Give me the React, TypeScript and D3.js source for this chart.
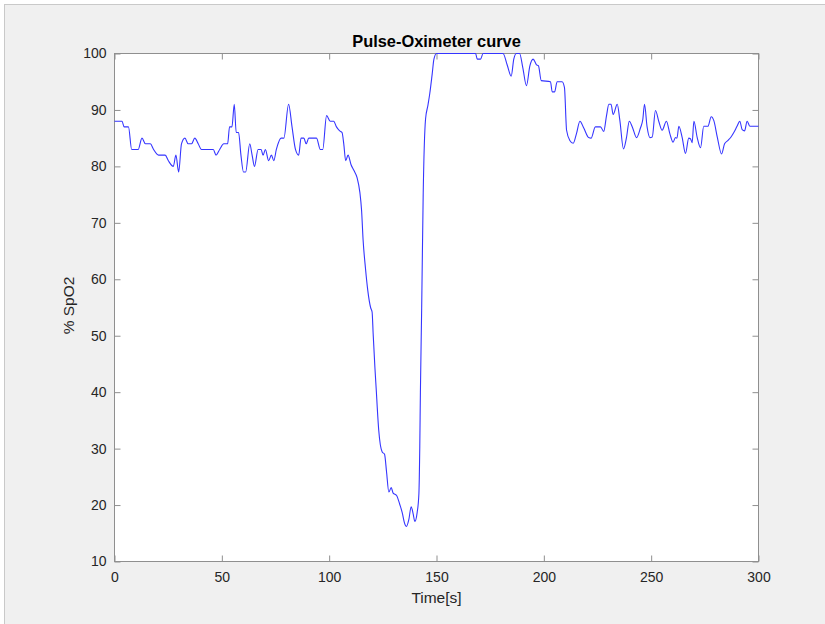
import React, { useEffect, useRef } from "react";
import * as d3 from "d3";

// Pulse-oximeter recording: time in seconds and oxygen saturation in %
const timeSec: number[] = [
  0, 3.5, 4.5, 6.5, 8, 11, 12.8, 14.4, 16.7, 18.2, 20.5, 23.6, 25.1, 27.4, 28.6, 29.9,
  31.2, 32.8, 34.3, 35.9, 37.4, 39, 40.5, 46, 47.3, 49, 50.9, 52.7, 53.6, 54.7, 55.8,
  56.7, 57.8, 58.9, 60.1, 61.1, 63, 64.1, 65.2, 66.9, 68.3, 69.2, 70.3, 71.8, 73.1,
  74.2, 75.4, 77.6, 78.9, 81.1, 82.7, 84.3, 85.8, 86.9, 88.2, 89.3, 90.5, 94.1, 95.9,
  97, 98.8, 100.5, 102.1, 103.4, 104.9, 106, 106.8, 107.7, 108.8, 110.2, 111.5, 113,
  114.3, 115.1, 115.8, 116.9, 118, 119.3, 120, 120.5, 121.3, 122, 122.4, 123.1, 124.7,
  125.8, 126.7, 127.8, 128.9, 129.8, 131.4, 132.9, 134, 135.1, 136, 137.1, 138.2,
  139.1, 139.9, 141, 141.8, 142.2, 142.5, 143.1, 143.8, 144.9, 146, 146.9, 148, 148.8,
  150, 168.2, 169, 170.5, 171.7, 181, 182.9, 184.8, 186, 187.2, 188.7, 190.2, 191.9,
  193.5, 195, 196.6, 197.5, 198.8, 203.1, 203.9, 205, 206.2, 208.5, 209.6, 210.6,
  212.1, 213.7, 215.2, 216.8, 218.6, 220.9, 222, 224, 226.4, 227.9, 229.2, 230.3,
  231.3, 232.3, 234.2, 235.4, 237.1, 238.5, 239.8, 241.3, 243.2, 245, 246.1, 246.9,
  248.1, 249.4, 250.5, 252, 253.6, 255.1, 257.1, 258.7, 260.2, 261.3, 262, 262.9,
  264.4, 266, 267.5, 268.3, 269.1, 269.9, 271.4, 273, 274.5, 276.4, 278, 279.2, 280.8,
  282.8, 284.2, 285.8, 287.2, 288.5, 290, 291.3, 292.4, 293.5, 294.7, 296, 300,
];

const spo2: number[] = [
  88, 88, 87, 87, 83, 83, 85, 84, 84, 83, 82, 82, 81, 80, 82, 79,
  84, 85, 84, 84, 85, 84, 83, 83, 82, 83, 84, 84, 87, 87, 91,
  86, 86, 82, 79, 79, 84, 82, 80, 83, 83, 82, 83, 81, 82,
  81, 83, 85, 85, 91, 87, 83, 82, 85, 85, 84, 85, 85, 83,
  83, 89, 88, 88, 87, 86.3, 86, 84, 81, 82, 80.3, 79.3, 78,
  75.4, 72.2, 67, 62, 58, 55, 54.2, 50.3, 44.4, 40, 37.3, 33.2, 29.4,
  29, 26, 22.3, 23.1, 22.1, 21.7, 20.1, 18.7, 16.8, 16.2, 17.4, 19.7,
  18.5, 17.1, 18.7, 22, 30, 40, 55, 75, 88.4, 90.8, 93, 96.4, 99,
  100, 100, 99, 99, 100, 100, 98, 96, 99, 100, 100, 97.5, 94.3,
  97.8, 99, 98, 97.8, 95.2, 95, 93.2, 93.2, 95, 95, 94, 86.4,
  84.6, 84.1, 85.8, 88, 86.8, 85.1, 85, 87, 87, 86.2, 89, 91,
  91, 89.2, 91, 88.2, 83.1, 85.1, 88, 86.9, 85.1, 86.8, 88.3, 91,
  87, 85.1, 85.2, 89.9, 87.9, 86.4, 88, 85.8, 84.3, 85.1, 85, 87.1,
  85.2, 82.3, 85, 84.9, 84.2, 88, 85.2, 83.3, 87.1, 87.1, 88.8, 88.1, 85.2,
  82.2, 84, 84.6, 85.2, 86, 87.1, 88, 86.5, 86.3, 88, 87.1, 87.1,
];

const xTicks: number[] = [0, 50, 100, 150, 200, 250, 300];
const yTicks: number[] = [10, 20, 30, 40, 50, 60, 70, 80, 90, 100];

const chartTitle = "Pulse-Oximeter curve";
const xTitle = "Time[s]";
const yTitle = "% SpO2";

const W = 825;
const H = 624;
const box = { left: 114.5, right: 758.5, top: 53.5, bottom: 561.5 };
const FONT = "'Liberation Sans', Arial, Helvetica, sans-serif";
const AXIS_GREY = "#8f8f8f";
const TEXT_COL = "#262626";

export default function App() {
  const ref = useRef<SVGSVGElement>(null);

  useEffect(() => {
    const svg = d3.select(ref.current);
    svg.selectAll("*").remove();

    // Figure background
    svg.append("rect").attr("x", 0).attr("y", 0).attr("width", W).attr("height", H).attr("fill", "#ffffff");
    svg
      .append("rect")
      .attr("x", 4.5)
      .attr("y", 4.5)
      .attr("width", W + 10)
      .attr("height", H + 10)
      .attr("fill", "#f0f0f0")
      .attr("stroke", "#c9c9c9");

    const x = d3.scaleLinear().domain([0, 300]).range([box.left, box.right]);
    const y = d3.scaleLinear().domain([10, 100]).range([box.bottom, box.top]);

    // Plot area
    svg
      .append("rect")
      .attr("x", box.left)
      .attr("y", box.top)
      .attr("width", box.right - box.left)
      .attr("height", box.bottom - box.top)
      .attr("fill", "#ffffff")
      .attr("stroke", AXIS_GREY);

    const styleAxis = (g: d3.Selection<SVGGElement, unknown, null, undefined>) => {
      g.select(".domain").remove();
      g.selectAll(".tick line").attr("stroke", AXIS_GREY);
      g.selectAll(".tick text")
        .attr("fill", TEXT_COL)
        .attr("font-family", FONT)
        .attr("font-size", 14);
    };

    svg
      .append("g")
      .attr("transform", `translate(0,${box.bottom})`)
      .call(d3.axisBottom(x).tickValues(xTicks).tickSize(-6).tickSizeOuter(0).tickPadding(11).tickFormat(d3.format("d")))
      .call(styleAxis);
    svg
      .append("g")
      .attr("transform", `translate(0,${box.top})`)
      .call(d3.axisTop(x).tickValues(xTicks).tickSize(-6).tickSizeOuter(0).tickFormat(() => ""))
      .call(styleAxis);
    svg
      .append("g")
      .attr("transform", `translate(${box.left},0)`)
      .call(d3.axisLeft(y).tickValues(yTicks).tickSize(-6).tickSizeOuter(0).tickPadding(8).tickFormat(d3.format("d")))
      .call(styleAxis);
    svg
      .append("g")
      .attr("transform", `translate(${box.right},0)`)
      .call(d3.axisRight(y).tickValues(yTicks).tickSize(-6).tickSizeOuter(0).tickFormat(() => ""))
      .call(styleAxis);

    // SpO2 trace
    const pts: [number, number][] = timeSec.map((t, i) => [t, spo2[i]]);
    const line = d3
      .line<[number, number]>()
      .x((d) => x(d[0]))
      .y((d) => y(d[1]))
      .curve(d3.curveMonotoneX);
    svg
      .append("path")
      .datum(pts)
      .attr("d", line)
      .attr("fill", "none")
      .attr("stroke", "#3535ff")
      .attr("stroke-width", 1.1)
      .attr("stroke-linejoin", "round");

    // Titles
    svg
      .append("text")
      .attr("x", (box.left + box.right) / 2)
      .attr("y", 47)
      .attr("text-anchor", "middle")
      .attr("font-family", FONT)
      .attr("font-weight", "bold")
      .attr("font-size", 16.4)
      .attr("fill", "#000000")
      .text(chartTitle);
    svg
      .append("text")
      .attr("x", (box.left + box.right) / 2)
      .attr("y", 603)
      .attr("text-anchor", "middle")
      .attr("font-family", FONT)
      .attr("font-size", 15.5)
      .attr("fill", TEXT_COL)
      .text(xTitle);
    svg
      .append("text")
      .attr("transform", `translate(73.5,${(box.top + box.bottom) / 2 - 2}) rotate(-90)`)
      .attr("text-anchor", "middle")
      .attr("font-family", FONT)
      .attr("font-size", 15.5)
      .attr("fill", TEXT_COL)
      .text(yTitle);
  }, []);

  return <svg ref={ref} width={W} height={H} style={{ position: "absolute", left: 0, top: 0 }} />;
}
